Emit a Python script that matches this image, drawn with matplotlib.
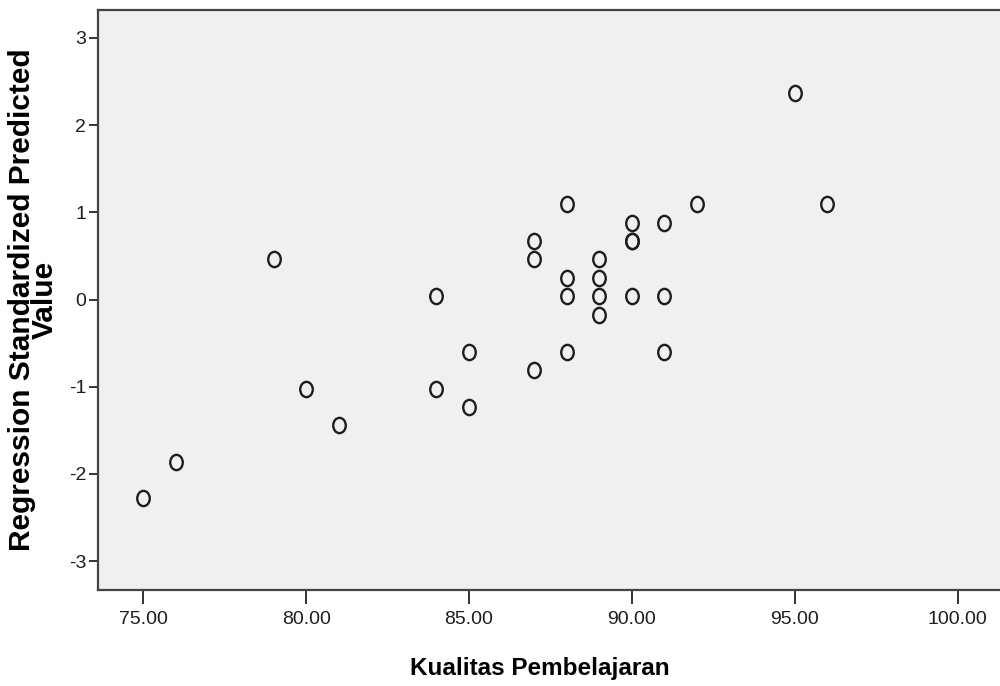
import matplotlib
matplotlib.use("Agg")
import matplotlib.pyplot as plt
from matplotlib.path import Path
from matplotlib.transforms import Affine2D
import numpy as np

# Kualitas Pembelajaran (x) vs Regression Standardized Predicted Value (y)
kualitas = [75, 76, 79, 80, 81, 84, 84, 85, 85, 87, 87, 87, 88, 88, 88, 88,
            89, 89, 89, 89, 90, 90, 90, 90, 91, 91, 91, 92, 95, 96]
predicted = [-2.28, -1.86, 0.46, -1.02, -1.44, 0.04, -1.02, -0.60, -1.23,
             0.67, 0.46, -0.81, 1.09, 0.25, 0.04, -0.60,
             0.46, 0.25, 0.04, -0.18, 0.88, 0.67, 0.67, 0.04,
             0.88, 0.04, -0.60, 1.09, 2.37, 1.09]

x_ticks = [75, 80, 85, 90, 95, 100]
y_ticks = [-3, -2, -1, 0, 1, 2, 3]

plt.rcParams["font.family"] = ["Liberation Sans", "DejaVu Sans"]

# slightly tall ellipse, like the SPSS circle marker
lingkaran = Path.unit_circle().transformed(Affine2D().scale(0.82, 1.0))

fig = plt.figure(figsize=(10, 6.86), dpi=100)
ax = fig.add_axes([0.098, (686 - 590) / 686, 0.902, 580 / 686])
ax.set_facecolor("#f0f0f0")

ax.plot(kualitas, predicted, linestyle="none", marker=lingkaran,
        markersize=11, markerfacecolor="none", markeredgecolor="#1e1e1e",
        markeredgewidth=1.7)

ax.set_xlim(73.61, 101.3)
ax.set_ylim(-3.33, 3.32)
ax.set_xticks(x_ticks)
ax.set_xticklabels([f"{v:.2f}" for v in x_ticks])
ax.set_yticks(y_ticks)
ax.set_yticklabels([str(v) for v in y_ticks])

ax.tick_params(axis="x", length=10, width=1.4, color="#333333",
               labelsize=14, pad=5, labelcolor="#1e1e1e")
ax.tick_params(axis="y", length=6.5, width=1.4, color="#333333",
               labelsize=14, pad=2, labelcolor="#1e1e1e")

for side in ["left", "bottom", "top"]:
    ax.spines[side].set_color("#444444")
    ax.spines[side].set_linewidth(1.6)
ax.spines["right"].set_visible(False)

ax.set_xlabel("Kualitas Pembelajaran", fontsize=17.5, fontweight="bold")
ax.set_ylabel("Regression Standardized Predicted\nValue", fontsize=21.5,
              fontweight="bold", linespacing=0.8)
ax.yaxis.set_label_coords(-0.043, 0.5)
ax.xaxis.set_label_coords(0.49, -0.115)

plt.savefig("out.png", dpi=100)
plt.close()
